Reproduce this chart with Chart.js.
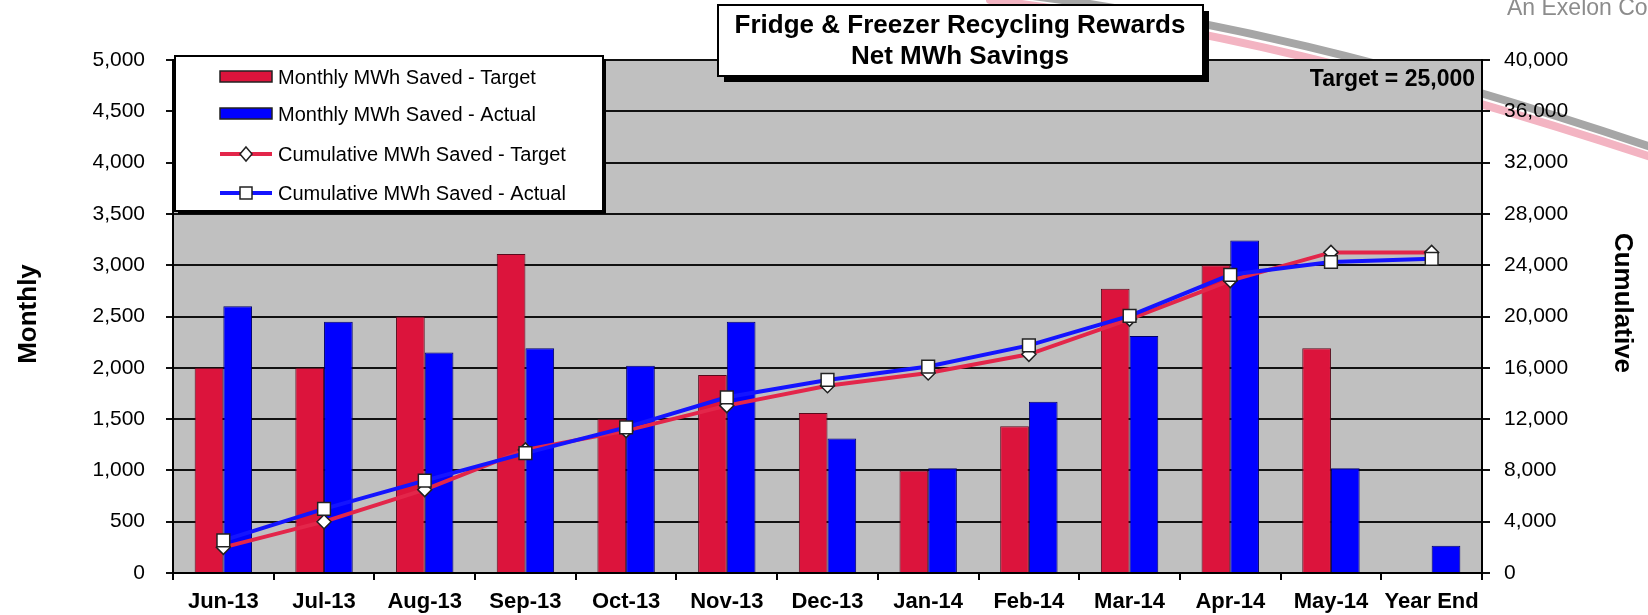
<!DOCTYPE html>
<html lang="en">

<head>
  <meta charset="UTF-8" />
  <title>Fridge &amp; Freezer Recycling Rewards</title>
  <script src="https://cdn.jsdelivr.net/npm/chart.js"></script>
  <style>
    body {
      margin: 0;
      background: #fff;
    }

    .chart-wrap {
      width: 1648px;
      height: 615px;
      position: relative;
    }
  </style>
</head>

<body>
  <div class="chart-wrap">
    <canvas id="recyclingChart"></canvas>
  </div>

  <script>
    const months = ['Jun-13', 'Jul-13', 'Aug-13', 'Sep-13', 'Oct-13', 'Nov-13', 'Dec-13', 'Jan-14', 'Feb-14', 'Mar-14',
      'Apr-14', 'May-14', 'Year End'];
    const monthlyTarget = [2000, 2000, 2500, 3110, 1500, 1930, 1560, 1000, 1430, 2770, 3000, 2190, null];
    const monthlyActual = [2600, 2450, 2150, 2190, 2020, 2450, 1310, 1020, 1670, 2310, 3240, 1020, 265];
    const cumulativeTarget = [2000, 4000, 6500, 9600, 11100, 13050, 14600, 15600, 17050, 19800, 22800, 25000, 25000];
    const cumulativeActual = [2550, 5000, 7200, 9350, 11350, 13700, 15050, 16100, 17750, 20050, 23250, 24250, 24500];

    const titleLines = ['Fridge & Freezer Recycling Rewards', 'Net MWh Savings'];
    const targetNote = 'Target = 25,000';
    const leftTitle = 'Monthly';
    const rightTitle = 'Cumulative';
    const logoText = 'An Exelon Co';

    const fontFamily = "'Liberation Sans', Arial, sans-serif";
    Chart.defaults.font.family = fontFamily;
    Chart.defaults.color = '#000';

    // grey plot background + the slide's swoosh behind it
    const backdrop = {
      id: 'backdrop',
      beforeDraw(chart) {
        const ctx = chart.ctx;
        const a = chart.chartArea;
        ctx.save();
        ctx.lineCap = 'round';
        ctx.strokeStyle = '#f3b4c2';
        ctx.lineWidth = 8;
        ctx.beginPath();
        ctx.moveTo(990, 0);
        ctx.bezierCurveTo(1190, 24, 1395, 72, 1660, 160);
        ctx.stroke();
        ctx.strokeStyle = '#a6a6a6';
        ctx.lineWidth = 8;
        ctx.beginPath();
        ctx.moveTo(1000, -8);
        ctx.bezierCurveTo(1200, 15, 1400, 62, 1660, 150);
        ctx.stroke();
        ctx.fillStyle = '#c0c0c0';
        ctx.fillRect(a.left, a.top, a.right - a.left, a.bottom - a.top);
        ctx.restore();
      }
    };

    const overlay = {
      id: 'overlay',
      afterDraw(chart) {
        const ctx = chart.ctx;
        const ds = chart.data.datasets;
        ctx.save();
        ctx.textBaseline = 'middle';

        // logo text, top right
        ctx.fillStyle = '#8c8c8c';
        ctx.font = '23px ' + fontFamily;
        ctx.textAlign = 'left';
        ctx.fillText(logoText, 1507, 9);

        // axis titles
        ctx.fillStyle = '#000';
        ctx.font = 'bold 26px ' + fontFamily;
        ctx.textAlign = 'center';
        ctx.save();
        ctx.translate(29, 314);
        ctx.rotate(-Math.PI / 2);
        ctx.fillText(leftTitle, 0, 0);
        ctx.restore();
        ctx.save();
        ctx.translate(1622, 303);
        ctx.rotate(Math.PI / 2);
        ctx.fillText(rightTitle, 0, 0);
        ctx.restore();

        // target note
        ctx.font = 'bold 23px ' + fontFamily;
        ctx.textAlign = 'right';
        ctx.fillText(targetNote, 1475, 80);

        // title box with drop shadow
        ctx.fillStyle = '#000';
        ctx.fillRect(724, 11, 485, 71);
        ctx.fillStyle = '#fff';
        ctx.fillRect(718, 5, 485, 71);
        ctx.strokeStyle = '#000';
        ctx.lineWidth = 2;
        ctx.strokeRect(718, 5, 485, 71);
        ctx.fillStyle = '#000';
        ctx.font = 'bold 26px ' + fontFamily;
        ctx.textAlign = 'center';
        ctx.fillText(titleLines[0], 960, 26);
        ctx.fillText(titleLines[1], 960, 57);

        // legend box
        ctx.fillStyle = '#000';
        ctx.fillRect(178, 59, 428, 155);
        ctx.fillStyle = '#fff';
        ctx.fillRect(175, 56, 428, 155);
        ctx.strokeRect(175, 56, 428, 155);
        const rows = [77, 114, 154, 193];
        ctx.font = '20px ' + fontFamily;
        ctx.textAlign = 'left';
        ds.forEach((d, i) => {
          const y = rows[i];
          if (d.type === 'bar') {
            ctx.fillStyle = d.backgroundColor;
            ctx.fillRect(220, y - 6, 52, 11);
            ctx.strokeStyle = '#222';
            ctx.lineWidth = 1.5;
            ctx.strokeRect(220, y - 6, 52, 11);
          } else {
            ctx.strokeStyle = d.borderColor;
            ctx.lineWidth = 4;
            ctx.beginPath();
            ctx.moveTo(220, y);
            ctx.lineTo(272, y);
            ctx.stroke();
            ctx.fillStyle = '#fff';
            ctx.strokeStyle = '#222';
            ctx.lineWidth = 1.5;
            ctx.beginPath();
            if (d.pointStyle === 'rectRot') {
              ctx.moveTo(246, y - 7);
              ctx.lineTo(252, y);
              ctx.lineTo(246, y + 7);
              ctx.lineTo(240, y);
              ctx.closePath();
            } else {
              ctx.rect(240, y - 6, 12, 12);
            }
            ctx.fill();
            ctx.stroke();
          }
          ctx.fillStyle = '#000';
          ctx.fillText(d.label, 278, y + 1);
        });
        ctx.restore();
      }
    };

    new Chart(document.getElementById('recyclingChart'), {
      data: {
        labels: months,
        datasets: [{
            type: 'bar',
            label: 'Monthly MWh Saved - Target',
            data: monthlyTarget,
            backgroundColor: '#dc143c',
            borderColor: '#5a0a1c',
            borderWidth: 1,
            yAxisID: 'y',
            order: 2,
            categoryPercentage: 0.57,
            barPercentage: 1,
          },
          {
            type: 'bar',
            label: 'Monthly MWh Saved - Actual',
            data: monthlyActual,
            backgroundColor: '#0000ff',
            borderColor: '#00006a',
            borderWidth: 1,
            yAxisID: 'y',
            order: 2,
            categoryPercentage: 0.57,
            barPercentage: 1,
          },
          {
            type: 'line',
            label: 'Cumulative MWh Saved - Target',
            data: cumulativeTarget,
            borderColor: '#e3264a',
            borderWidth: 4,
            pointStyle: 'rectRot',
            pointRadius: 7,
            pointBackgroundColor: '#fff',
            pointBorderColor: '#222',
            pointBorderWidth: 1.5,
            tension: 0,
            yAxisID: 'y2',
            order: 1,
          },
          {
            type: 'line',
            label: 'Cumulative MWh Saved - Actual',
            data: cumulativeActual,
            borderColor: '#1414ff',
            borderWidth: 4,
            pointStyle: 'rect',
            pointRadius: 9,
            pointBackgroundColor: '#fff',
            pointBorderColor: '#222',
            pointBorderWidth: 1.5,
            tension: 0,
            yAxisID: 'y2',
            order: 0,
          },
        ],
      },
      options: {
        responsive: true,
        maintainAspectRatio: false,
        animation: false,
        layout: {
          padding: {
            top: 60,
            left: 0,
            right: 0,
            bottom: 0
          }
        },
        plugins: {
          legend: {
            display: false
          },
          title: {
            display: false
          },
          tooltip: {
            enabled: false
          },
        },
        scales: {
          x: {
            grid: {
              drawOnChartArea: false,
              drawTicks: true,
              tickLength: 7,
              color: '#000',
              lineWidth: 2,
              offset: true,
            },
            border: {
              color: '#000',
              width: 2
            },
            ticks: {
              font: {
                size: 22,
                weight: 'bold'
              },
              padding: 9,
              maxRotation: 0,
              autoSkip: false,
            },
            afterFit(scale) {
              scale.height = 42;
            },
          },
          y: {
            position: 'left',
            min: 0,
            max: 5000,
            ticks: {
              stepSize: 500,
              font: {
                size: 21
              },
              padding: 21,
            },
            grid: {
              color: '#111',
              lineWidth: 2,
              tickLength: 7,
            },
            border: {
              color: '#000',
              width: 2
            },
            afterFit(scale) {
              scale.width = 173;
            },
          },
          y2: {
            position: 'right',
            min: 0,
            max: 40000,
            ticks: {
              stepSize: 4000,
              font: {
                size: 21
              },
              padding: 14,
            },
            grid: {
              drawOnChartArea: false,
              color: '#111',
              lineWidth: 2,
              tickLength: 8,
            },
            border: {
              color: '#000',
              width: 2
            },
            afterFit(scale) {
              scale.width = 166;
            },
          },
        },
      },
      plugins: [backdrop, overlay],
    });
  </script>
</body>

</html>
